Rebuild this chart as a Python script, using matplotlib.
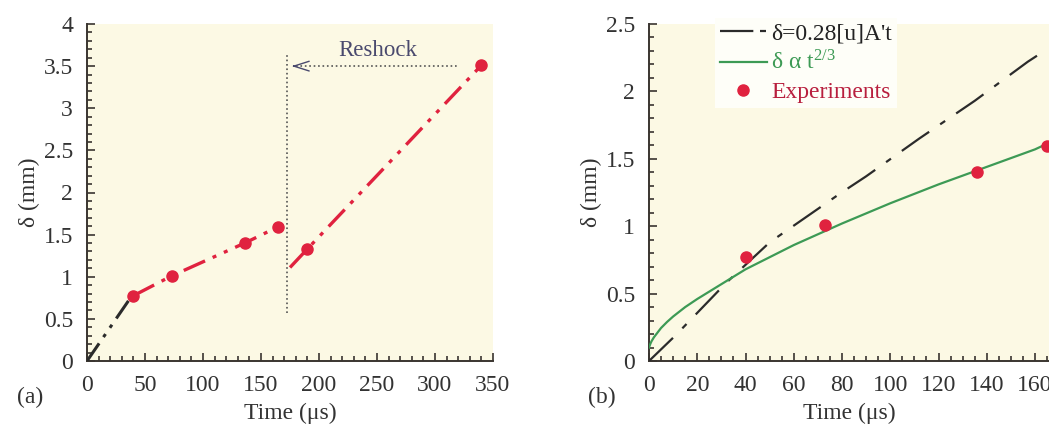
import numpy as np
import matplotlib
matplotlib.use("Agg")
import matplotlib.pyplot as plt
from matplotlib.lines import Line2D
from matplotlib.ticker import MultipleLocator

# ── Data ─────────────────────────────────────────────────────────────────────
exp_t = [40, 73, 136, 165, 190, 340]
exp_d = [0.775, 1.01, 1.40, 1.595, 1.33, 3.51]

# panel (a): fitted segments
pre_t = [0, 37]
pre_d = [0, 0.74]
seg1_t = [40, 73, 136, 165]
seg1_d = [0.775, 1.01, 1.40, 1.595]
seg2_t = [175, 190, 340]
seg2_d = [1.11, 1.33, 3.51]
reshock_t = 172
reshock_span = [0.57, 3.66]
arrow_from, arrow_to, arrow_y = 320, 174, 3.5

# panel (b): models
lin_t = [0, 11, 32, 50, 79, 90, 112, 135, 157, 163]
lin_d = [0, 0.19, 0.58, 0.88, 1.24, 1.37, 1.65, 1.93, 2.22, 2.29]
pow_t = [0, 0.5, 1, 2, 3.5, 5, 7.5, 10, 15, 20, 30, 40, 60, 80, 100, 120, 140, 160, 166]
pow_d = [0.10, 0.125, 0.145, 0.175, 0.21, 0.245, 0.29, 0.33, 0.40, 0.46, 0.57, 0.68,
         0.86, 1.02, 1.17, 1.31, 1.44, 1.57, 1.62]
b_exp_t = [40, 73, 136, 165]
b_exp_d = [0.775, 1.01, 1.40, 1.595]

# ── Style ────────────────────────────────────────────────────────────────────
plt.rcParams["font.family"] = ["Liberation Serif", "DejaVu Serif"]
plt.rcParams["mathtext.fontset"] = "stix"

BG     = "#fcf9e4"
RED    = "#e0223f"
GREEN  = "#3d9a55"
DARK   = "#2b2b2b"
AXCOL  = "#3a3530"
NAVY   = "#4a4a6e"
TXT    = "#333333"
DASH3  = (0, (7, 2.5, 1.2, 2.5, 1.2, 2.5))
LDASH  = (0, (15, 6, 2.7, 6))

fig = plt.figure(figsize=(10.49, 4.24), dpi=100)
ax_a = fig.add_axes([87 / 1049, 63 / 424, 406 / 1049, 337 / 424])
ax_b = fig.add_axes([649 / 1049, 63 / 424, 400 / 1049, 337 / 424])


def style_axes(ax, xmaj, xmin, ymaj, ymin):
    ax.set_facecolor(BG)
    for s in ("top", "right"):
        ax.spines[s].set_visible(False)
    for s in ("left", "bottom"):
        ax.spines[s].set_color(AXCOL)
        ax.spines[s].set_linewidth(1.4)
    ax.xaxis.set_major_locator(MultipleLocator(xmaj))
    ax.xaxis.set_minor_locator(MultipleLocator(xmin))
    ax.yaxis.set_major_locator(MultipleLocator(ymaj))
    ax.yaxis.set_minor_locator(MultipleLocator(ymin))
    ax.tick_params(which="both", direction="in", colors=AXCOL, width=1.2,
                   labelsize=17, labelcolor=TXT, top=False, right=False)
    ax.tick_params(which="major", length=6, pad=10)
    ax.tick_params(which="minor", length=3.5)
    ax.set_xlabel("Time (μs)", fontsize=17, color=TXT, labelpad=5)
    ax.set_ylabel("δ (mm)", fontsize=17, color=TXT, labelpad=3)
    ax.yaxis.set_major_formatter(plt.FuncFormatter(lambda v, p: f"{v:g}"))


# ── Panel (a) ────────────────────────────────────────────────────────────────
style_axes(ax_a, 50, 10, 0.5, 0.1)
ax_a.set_xlim(0, 350)
ax_a.set_ylim(0, 4)
ax_a.plot(pre_t, pre_d, color=DARK, lw=2.2, ls=DASH3, zorder=3)
ax_a.plot(seg1_t, seg1_d, color=RED, lw=2.4, ls=DASH3, zorder=3)
ax_a.plot(seg2_t, seg2_d, color=RED, lw=2.4, ls=DASH3, zorder=3)
ax_a.plot(exp_t, exp_d, "o", color=RED, ms=8, zorder=4, clip_on=False)
ax_a.plot([reshock_t, reshock_t], reshock_span, color="#555555", lw=1.2, ls=":")
ax_a.plot([arrow_to + 6, arrow_from], [arrow_y, arrow_y], color="#555555", lw=1.2, ls=":")
ax_a.annotate("", xy=(arrow_to, arrow_y), xytext=(arrow_to + 8, arrow_y),
              arrowprops=dict(arrowstyle="->,head_length=1.1,head_width=0.35",
                              color=NAVY, lw=1.0))
ax_a.text(251, 3.68, "Reshock", fontsize=16.5, color=NAVY, ha="center", va="center")
fig.text(30 / 1049, 1 - 397 / 424, "(a)", fontsize=17, color=TXT, ha="center", va="center")

# ── Panel (b) ────────────────────────────────────────────────────────────────
style_axes(ax_b, 20, 5, 0.5, 0.1)
ax_b.set_xlim(0, 165.8)
ax_b.set_ylim(0, 2.5)
ax_b.plot(lin_t, lin_d, color=DARK, lw=1.6, ls=LDASH, zorder=3)
ax_b.plot(pow_t, pow_d, color=GREEN, lw=1.6, zorder=3)
ax_b.plot(b_exp_t, b_exp_d, "o", color=RED, ms=8, zorder=4, clip_on=True)
fig.text(602 / 1049, 1 - 397 / 424, "(b)", fontsize=17, color=TXT, ha="center", va="center")

handles = [
    Line2D([], [], color=DARK, lw=1.6, ls=(0, (15, 3, 2.7, 6))),
    Line2D([], [], color=GREEN, lw=1.6),
    Line2D([], [], color=RED, ls="none", marker="o", ms=8),
]
labels = ["δ=0.28[u]A't", r"δ α t$^{\mathregular{2/3}}$", "Experiments"]
leg = ax_b.legend(handles, labels, loc="upper left",
                  bbox_to_anchor=(703 / 1049, 1 - 6 / 424), bbox_transform=fig.transFigure,
                  fontsize=17, frameon=True, facecolor="#fefef8", edgecolor="none",
                  framealpha=1, fancybox=False, handlelength=2.0, handletextpad=0.2,
                  labelspacing=0.28, borderpad=0.2,
                  labelcolor=["#222222", GREEN, "#b81f3e"])

fig.savefig("out.png", dpi=100, facecolor="white")
